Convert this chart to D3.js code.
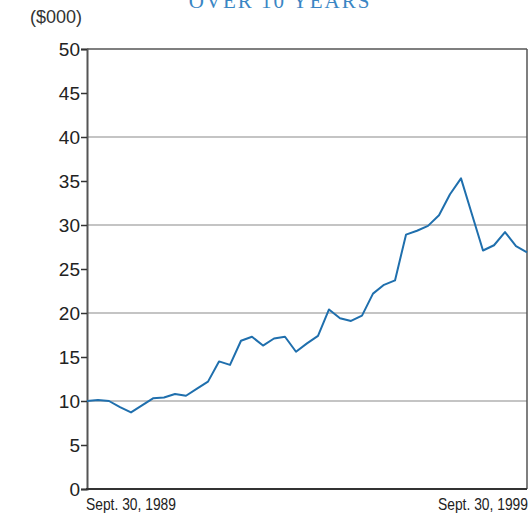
<!DOCTYPE html>
<html>
<head>
<meta charset="utf-8">
<script src="https://cdn.jsdelivr.net/npm/d3@7"></script>
<style>
  body { margin: 0; background: #fff; }
  svg { display: block; }
</style>
</head>
<body>
<script>
// quarterly values, Sept 1989 .. Sept 1999 ($000)
var values = [10.0, 10.1, 10.0, 9.3, 8.7, 9.5, 10.3, 10.4, 10.8, 10.6,
              11.4, 12.2, 14.5, 14.1, 16.85, 17.3, 16.3, 17.1, 17.3, 15.6,
              16.55, 17.4, 20.4, 19.4, 19.1, 19.7, 22.2, 23.2, 23.7, 28.9,
              29.35, 29.9, 31.1, 33.5, 35.3, 31.2, 27.1, 27.7, 29.2, 27.6, 26.9];
var yTicks = [0, 5, 10, 15, 20, 25, 30, 35, 40, 45, 50];
var gridValues = [10, 20, 30, 40];
var xLabels = ["Sept. 30, 1989", "Sept. 30, 1999"];
var title = "OVER 10 YEARS";
var unitLabel = "($000)";

var width = 531, height = 515;
var margins = { top: 49, bottom: 26, left: 87, right: 4 };

var svg = d3.select("body").append("svg")
  .attr("width", width)
  .attr("height", height);

var xScale = d3.scaleLinear()
  .domain([0, values.length - 1])
  .range([margins.left, width - margins.right]);

var yScale = d3.scaleLinear()
  .domain([0, 50])
  .range([height - margins.bottom, margins.top]);

// title, cut off by top edge in the original
svg.append("text")
  .attr("x", 280)
  .attr("y", 8)
  .attr("text-anchor", "middle")
  .attr("font-family", "Liberation Serif, serif")
  .attr("font-size", 21)
  .attr("letter-spacing", 2)
  .attr("fill", "#3a86c4")
  .text(title);

svg.append("text")
  .attr("x", 30)
  .attr("y", 23)
  .attr("font-family", "Liberation Sans, Arial, sans-serif")
  .attr("font-size", 18)
  .attr("fill", "#333")
  .text(unitLabel);

// grid lines
svg.append("g")
  .selectAll("line")
  .data(gridValues)
  .enter()
  .append("line")
  .attr("x1", margins.left)
  .attr("x2", width - margins.right)
  .attr("y1", function(d){ return yScale(d); })
  .attr("y2", function(d){ return yScale(d); })
  .attr("stroke", "#8a8a8a")
  .attr("stroke-width", 1.2);

// top and right frame
svg.append("line")
  .attr("x1", margins.left).attr("x2", width - margins.right)
  .attr("y1", yScale(50)).attr("y2", yScale(50))
  .attr("stroke", "#555").attr("stroke-width", 1.5);
svg.append("line")
  .attr("x1", width - margins.right).attr("x2", width - margins.right)
  .attr("y1", yScale(50)).attr("y2", yScale(0))
  .attr("stroke", "#555").attr("stroke-width", 1.5);

// y axis
var yAxis = d3.axisLeft(yScale)
  .tickValues(yTicks)
  .tickSize(6)
  .tickPadding(1)
  .tickFormat(d3.format("d"));

var yG = svg.append("g")
  .attr("transform", "translate(" + margins.left + ",0)")
  .call(yAxis);
yG.select(".domain").attr("stroke", "#555").attr("stroke-width", 2);
yG.selectAll(".tick line").attr("stroke", "#333").attr("stroke-width", 1.5);
yG.selectAll(".tick text")
  .attr("font-family", "Liberation Sans, Arial, sans-serif")
  .attr("font-size", 19)
  .attr("fill", "#222");

// x axis baseline
svg.append("line")
  .attr("x1", margins.left - 1).attr("x2", width - margins.right)
  .attr("y1", yScale(0)).attr("y2", yScale(0))
  .attr("stroke", "#333").attr("stroke-width", 2);

// condensed date labels at both ends
svg.append("g")
  .selectAll("text")
  .data(xLabels)
  .enter()
  .append("text")
  .attr("x", function(d, i){ return i == 0 ? xScale(0) - 1 : xScale(values.length - 1) + 1; })
  .attr("y", yScale(0) + 21)
  .attr("text-anchor", function(d, i){ return i == 0 ? "start" : "end"; })
  .attr("font-family", "Liberation Sans, Arial, sans-serif")
  .attr("font-size", 17)
  .attr("textLength", 90)
  .attr("lengthAdjust", "spacingAndGlyphs")
  .attr("fill", "#222")
  .text(function(d){ return d; });

// the line
var line = d3.line()
  .x(function(d, i){ return xScale(i); })
  .y(function(d){ return yScale(d); });

svg.append("path")
  .datum(values)
  .attr("d", line)
  .attr("fill", "none")
  .attr("stroke", "#1f6fad")
  .attr("stroke-width", 2)
  .attr("stroke-linejoin", "round");
</script>
</body>
</html>
